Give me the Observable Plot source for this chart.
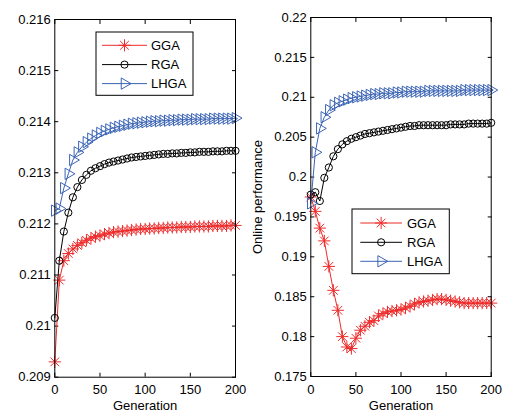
<!DOCTYPE html>
<html><head><meta charset="utf-8">
<script src="https://cdn.jsdelivr.net/npm/d3@7"></script>
<script src="https://cdn.jsdelivr.net/npm/@observablehq/plot@0.6"></script>
<style>
body{margin:0;background:#fff;}
#wrap{position:relative;width:509px;height:412px;font-family:"Liberation Sans",Arial,sans-serif;overflow:hidden;}
#wrap > svg{position:absolute;top:0;}
</style>
</head><body>
<div id="wrap"></div>
<script>
const generations = [0,5,10,15,20,25,30,35,40,45,50,55,60,65,70,75,80,85,90,95,100,105,110,115,120,125,130,135,140,145,150,155,160,165,170,175,180,185,190,195,200];
const seriesNames = ["GGA","RGA","LHGA"];
const seriesColors = ["#ee2b2b","#000000","#3b64b5"];

// Left panel
const leftGGA = [0.20930,0.21090,0.21128,0.21142,0.21151,0.21158,0.21163,0.21168,0.21172,0.21175,0.21177,0.21180,0.21182,0.21184,0.21185,0.21186,0.21187,0.21188,0.21189,0.21190,0.21190,0.21191,0.21191,0.21192,0.21192,0.21193,0.21193,0.21193,0.21194,0.21194,0.21194,0.21195,0.21195,0.21195,0.21195,0.21196,0.21196,0.21196,0.21196,0.21197,0.21197];
const leftRGA = [0.21016,0.21128,0.21185,0.21222,0.21252,0.21272,0.21286,0.21296,0.21304,0.21309,0.21313,0.21317,0.21320,0.21322,0.21324,0.21326,0.21328,0.21330,0.21331,0.21332,0.21333,0.21334,0.21335,0.21336,0.21337,0.21337,0.21338,0.21338,0.21339,0.21339,0.21340,0.21340,0.21341,0.21341,0.21341,0.21342,0.21342,0.21342,0.21343,0.21343,0.21343];
const leftLHGA = [0.21226,0.21230,0.21270,0.21298,0.21325,0.21340,0.21351,0.21360,0.21367,0.21373,0.21378,0.21382,0.21385,0.21388,0.21390,0.21392,0.21394,0.21396,0.21397,0.21398,0.21399,0.21400,0.21401,0.21401,0.21402,0.21402,0.21403,0.21403,0.21404,0.21404,0.21404,0.21405,0.21405,0.21405,0.21405,0.21406,0.21406,0.21406,0.21406,0.21406,0.21407];

// Right panel
const rightGGA = [0.1975,0.1957,0.1936,0.1920,0.1888,0.1858,0.1833,0.1800,0.1787,0.1785,0.1798,0.1808,0.1813,0.1818,0.1820,0.1826,0.1829,0.1831,0.1832,0.1833,0.1834,0.1836,0.1838,0.1841,0.1843,0.1844,0.1845,0.1846,0.1847,0.1847,0.1846,0.1845,0.1844,0.1843,0.1842,0.1842,0.1842,0.1842,0.1842,0.1842,0.1842];
const rightRGA = [0.1978,0.1981,0.1970,0.1999,0.2012,0.2026,0.2035,0.2041,0.2045,0.2048,0.2050,0.2052,0.2054,0.2055,0.2056,0.2057,0.2058,0.2059,0.2060,0.2061,0.2062,0.2063,0.2064,0.2064,0.2065,0.2065,0.2065,0.2065,0.2065,0.2065,0.2065,0.2066,0.2066,0.2066,0.2066,0.2067,0.2067,0.2067,0.2067,0.2067,0.2068];
const rightLHGA = [0.1967,0.2031,0.2061,0.2075,0.2084,0.2090,0.2093,0.2095,0.2097,0.2099,0.2100,0.2101,0.2102,0.2103,0.2104,0.2104,0.2105,0.2105,0.2105,0.2106,0.2106,0.2107,0.2107,0.2107,0.2107,0.2107,0.2108,0.2108,0.2108,0.2108,0.2108,0.2108,0.2108,0.2108,0.2109,0.2109,0.2109,0.2109,0.2109,0.2109,0.2109];

const xTicks = [0,50,100,150,200];
const leftYTicks = [0.209,0.210,0.211,0.212,0.213,0.214,0.215,0.216];
const rightYTicks = [0.175,0.180,0.185,0.190,0.195,0.200,0.205,0.210,0.215,0.220];
const fmt = d => String(+d.toFixed(6));

function rowsOf(values, name) {
  return generations.map((g, i) => ({gen: g, value: values[i], series: name}));
}

function seriesMarks(rows, idx) {
  const c = seriesColors[idx];
  const marks = [Plot.line(rows, {x: "gen", y: "value", stroke: c, strokeWidth: 1})];
  if (idx === 0) {
    marks.push(Plot.dot(rows, {x: "gen", y: "value", symbol: "plus", r: 4, stroke: c, strokeWidth: 1}));
    marks.push(Plot.dot(rows, {x: "gen", y: "value", symbol: "times", r: 4, stroke: c, strokeWidth: 1}));
  } else if (idx === 1) {
    marks.push(Plot.dot(rows, {x: "gen", y: "value", symbol: "circle", r: 3.6, stroke: c, strokeWidth: 1, fill: "none"}));
  } else {
    marks.push(Plot.dot(rows, {x: "gen", y: "value", symbol: "triangle", r: 4.2, rotate: 90, stroke: c, strokeWidth: 1, fill: "none"}));
  }
  return marks;
}

function panel({width, marginLeft, marginRight, marginTop, marginBottom, yDomain, yTicks, yLabel, data}) {
  return Plot.plot({
    width, height: 412, marginLeft, marginRight, marginTop, marginBottom,
    style: {fontFamily: "Liberation Sans, Arial, sans-serif", fontSize: "13px", color: "#000", background: "transparent", overflow: "visible"},
    x: {domain: [0, 200]},
    y: {domain: yDomain},
    marks: [
      Plot.axisX({ticks: xTicks, tickSize: -4, tickPadding: 12, tickFormat: fmt, label: "Generation", labelAnchor: "center", labelOffset: 33, labelArrow: "none"}),
      Plot.axisX({anchor: "top", ticks: xTicks, tickSize: -4, tickFormat: () => "", label: null}),
      Plot.axisY({ticks: yTicks, tickSize: -4, tickPadding: 8, tickFormat: fmt, label: yLabel, labelAnchor: "center", labelOffset: 58, labelArrow: "none"}),
      Plot.axisY({anchor: "right", ticks: yTicks, tickSize: -4, tickFormat: () => "", label: null}),
      ...data.flatMap((vals, i) => seriesMarks(rowsOf(vals, seriesNames[i]), i)),
      Plot.frame({stroke: "#000", strokeWidth: 1})
    ]
  });
}

const wrap = document.getElementById("wrap");

const left = panel({width: 250, marginLeft: 54.3, marginRight: 15, marginTop: 19, marginBottom: 35.3,
  yDomain: [0.209, 0.216], yTicks: leftYTicks, yLabel: null, data: [leftGGA, leftRGA, leftLHGA]});
left.style.left = "0px";
wrap.appendChild(left);

const right = panel({width: 259, marginLeft: 60.3, marginRight: 18.3, marginTop: 17, marginBottom: 36,
  yDomain: [0.175, 0.220], yTicks: rightYTicks, yLabel: "Online performance", data: [rightGGA, rightRGA, rightLHGA]});
right.style.left = "250px";
wrap.appendChild(right);

// Legends
function legend(box) {
  const svg = d3.select(wrap).append("svg")
    .attr("width", box.w + 2).attr("height", box.h + 2)
    .style("left", (box.x - 1) + "px").style("top", (box.y - 1) + "px");
  svg.append("rect").attr("x", 1).attr("y", 1).attr("width", box.w).attr("height", box.h)
    .attr("fill", "#fff").attr("stroke", "#000").attr("stroke-width", 1);
  seriesNames.forEach((name, i) => {
    const cy = 1 + box.rows[i];
    const c = seriesColors[i];
    const g = svg.append("g");
    g.append("line").attr("x1", 1 + box.l1).attr("x2", 1 + box.l2).attr("y1", cy).attr("y2", cy)
      .attr("stroke", c).attr("stroke-width", 1);
    const mx = 1 + (box.l1 + box.l2) / 2;
    const sym = (t, r) => d3.symbol(t, Math.PI * r * r)();
    if (i === 0) {
      g.append("path").attr("d", sym(d3.symbolPlus, 4)).attr("transform", `translate(${mx},${cy})`).attr("fill", "none").attr("stroke", c);
      g.append("path").attr("d", sym(d3.symbolTimes, 4)).attr("transform", `translate(${mx},${cy})`).attr("fill", "none").attr("stroke", c);
    } else if (i === 1) {
      g.append("path").attr("d", sym(d3.symbolCircle, 3.6)).attr("transform", `translate(${mx},${cy})`).attr("fill", "none").attr("stroke", c);
    } else {
      g.append("path").attr("d", sym(d3.symbolTriangle, 4.2)).attr("transform", `translate(${mx},${cy}) rotate(90)`).attr("fill", "none").attr("stroke", c);
    }
    g.append("text").attr("x", 1 + box.t).attr("y", cy).attr("dy", "0.36em")
      .attr("font-family", "Liberation Sans, Arial, sans-serif").attr("font-size", 13).attr("fill", "#000").text(name);
  });
}
legend({x: 95.7, y: 31.7, w: 97, h: 63.3, l1: 6, l2: 51, t: 55, rows: [13.3, 32.6, 51.6]});
legend({x: 351.7, y: 209, w: 97.3, h: 64.7, l1: 8.3, l2: 50, t: 55, rows: [14, 33.3, 52.3]});
</script>
</body></html>
